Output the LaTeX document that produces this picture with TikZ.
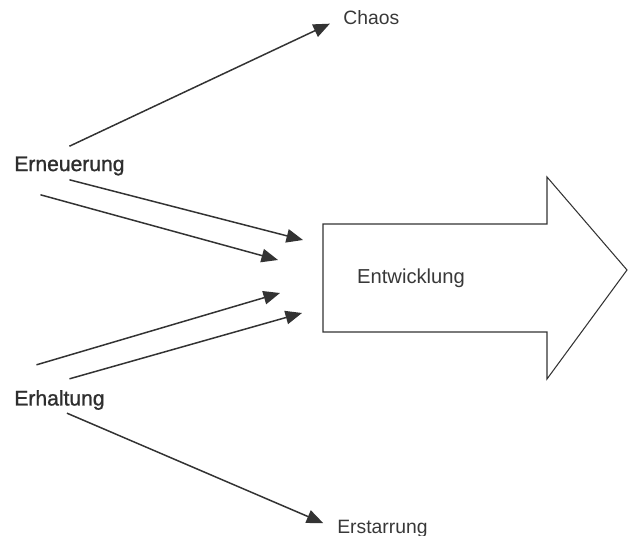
\documentclass[tikz,border=0pt]{standalone}
\usepackage{fontspec}
\setmainfont{Liberation Sans}
\newfontfamily\heavyfont[FakeBold=1.2]{Liberation Sans}
\usetikzlibrary{arrows.meta, positioning}

\begin{document}
\begin{tikzpicture}[x=0.02cm, y=-0.02cm, >={Triangle[length=0.33cm, width=0.27cm]},
    every node/.style={inner sep=0pt, text=black!78},
    source/.style={font=\heavyfont\fontsize{12}{14}\selectfont, anchor=west, text=black!82},
    target/.style={font=\fontsize{11}{13}\selectfont, anchor=west},
    link/.style={->, draw=black!80, line width=0.85pt},
    bigarrow/.style={draw=black!80, line width=0.6pt}]
        \useasboundingbox (0,0) rectangle (628,536);

        \node[source] (ern) at (14,166) {Erneuerung};
        \node[source] (erh) at (14,400) {Erhaltung};
        \node[target] (chaos) at (343,17.5) {Chaos};
        \node[target] (erst) at (337,529) {Erstarrung};

        % big arrow
        \draw[bigarrow] (323,224) -- (547,224) -- (547,177) -- (627,270)
            -- (547,379) -- (547,332) -- (323,332) -- cycle;
        \node[font=\fontsize{11.5}{13}\selectfont] (entw) at (411,278) {Entwicklung};

        \coordinate[above=0.2cm of ern.north] (ern-a);
        \coordinate[below=0.08cm of ern.south] (ern-b);
        \coordinate[below left=0.38cm and 0.58cm of ern.south] (ern-c);
        \coordinate[above left=0.5cm and 0.46cm of erh.north] (erh-a);
        \coordinate[above right=0.22cm and 0.2cm of erh.north] (erh-b);
        \coordinate[below right=0.06cm and 0.15cm of erh.south] (erh-c);

        \coordinate (entw-a) at (303,240);
        \coordinate (entw-b) at (278,260);
        \coordinate (entw-c) at (280,293);
        \coordinate (entw-d) at (302,313);

        \draw[link, shorten >=0.29cm] (ern-a) -- (chaos.west);
        \draw[link] (ern-b) -- (entw-a);
        \draw[link] (ern-c) -- (entw-b);
        \draw[link] (erh-a) -- (entw-c);
        \draw[link] (erh-b) -- (entw-d);
        \draw[link, shorten >=0.3cm] (erh-c) -- (erst.west);
\end{tikzpicture}
\end{document}
